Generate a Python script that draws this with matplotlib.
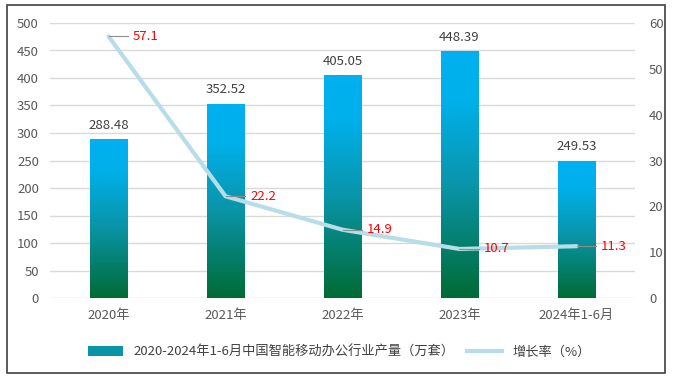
import numpy as np
import matplotlib.pyplot as plt
from matplotlib.patches import Rectangle
from matplotlib.lines import Line2D
from matplotlib.colors import LinearSegmentedColormap

plt.rcParams['font.family'] = ['Noto Sans CJK SC', 'DejaVu Sans']

categories = ['2020年', '2021年', '2022年', '2023年', '2024年1-6月']
output = [288.48, 352.52, 405.05, 448.39, 249.53]
growth = [57.1, 22.2, 14.9, 10.7, 11.3]

bar_label = '2020-2024年1-6月中国智能移动办公行业产量（万套）'
line_label = '增长率（%）'

W, H = 679, 380
fig = plt.figure(figsize=(W / 100, H / 100), dpi=100)

# outer frame
fig.patches.append(Rectangle((7 / W, 1 - 373 / H), 658 / W, 368 / H,
                             transform=fig.transFigure, fill=False,
                             edgecolor='#404040', linewidth=1.2))

ax = fig.add_axes([50 / W, 1 - 298 / H, 585 / W, 275 / H])
ax2 = ax.twinx()

x = np.arange(len(categories))
ax.set_xlim(-0.5, len(categories) - 0.5)
ax.set_ylim(0, 500)
ax.set_yticks(range(0, 501, 50))
ax2.set_ylim(0, 60)
ax2.set_yticks(range(0, 61, 10))

ax.grid(axis='y', color='#d9d9d9', linewidth=1)
ax.set_axisbelow(True)
for a in (ax, ax2):
    for s in a.spines.values():
        s.set_visible(False)
    a.tick_params(length=0, colors='#595959', labelsize=9.5)
ax.tick_params(axis='y', pad=8)
ax2.tick_params(axis='y', pad=10)
ax.tick_params(axis='x', pad=8)
ax.set_xticks(x)
ax.set_xticklabels(categories)

# gradient bars
cmap = LinearSegmentedColormap.from_list('bar', [(0, '#006b35'), (0.45, '#0a94a8'), (0.8, '#00b0ea'), (1, '#00b0f0')])
grad = np.linspace(0, 1, 256).reshape(-1, 1)
bw = 0.32
bars = ax.bar(x, output, width=bw, color='none', edgecolor='none')
for b, v in zip(bars, output):
    im = ax.imshow(grad, cmap=cmap, origin='lower', aspect='auto',
                   extent=[b.get_x(), b.get_x() + bw, 0, v], zorder=2)
    im.set_clip_path(b)
    ax.text(b.get_x() + bw / 2, v + 14, f'{v:.2f}', ha='center', va='bottom',
            color='#404040', fontsize=9.5)
ax.set_xlim(-0.5, len(categories) - 0.5)
ax.set_ylim(0, 500)

# growth line
ax2.plot(x, growth, color='#b7dde8', linewidth=3, zorder=3, solid_capstyle='round')
for xi, g in zip(x, growth):
    ax2.plot([xi, xi + 0.17], [g, g], color='#8c8c8c', linewidth=0.8, zorder=4)
    ax2.text(xi + 0.21, g, f'{g}', color='#ff0000', fontsize=9.5, va='center', ha='left', zorder=5)

# legend
handles = [Rectangle((0, 0), 1, 1, facecolor='#0a94a8', edgecolor='none'),
           Line2D([], [], color='#b7dde8', linewidth=3)]
fig.legend(handles, [bar_label, line_label], loc='center', bbox_to_anchor=(0.5, 1 - 352 / H),
           ncol=2, frameon=False, fontsize=9.5, handlelength=2.6, columnspacing=1.0,
           labelcolor='#404040')

fig.savefig('out.png', dpi=100)
